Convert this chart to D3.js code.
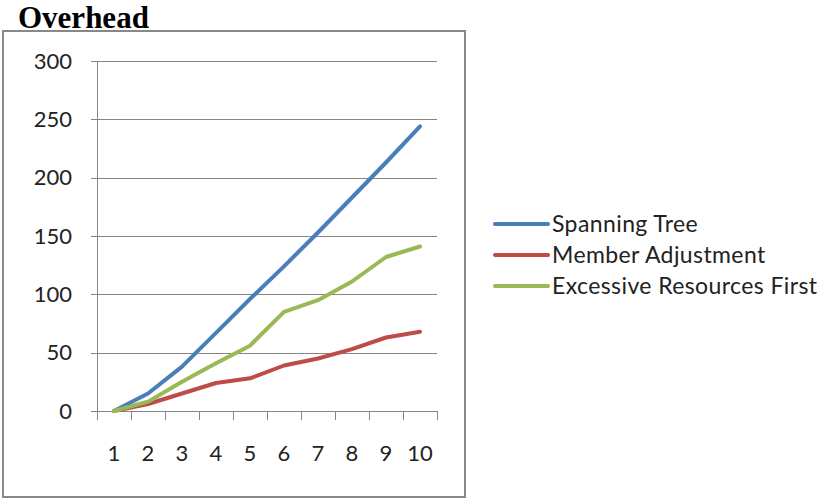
<!DOCTYPE html>
<html>
<head>
<meta charset="utf-8">
<script src="https://cdn.jsdelivr.net/npm/d3@7"></script>
<style>
  html, body { margin: 0; padding: 0; background: #fff; }
  svg { display: block; }
</style>
</head>
<body>
<svg id="chart" width="825" height="500"></svg>
<script>
// Runs (x axis) and overhead per method
const categories = ["1", "2", "3", "4", "5", "6", "7", "8", "9", "10"];
const spanningTree = [0, 15, 38, 67, 96, 124, 153, 183, 213, 244];
const memberAdjustment = [0, 6, 15, 24, 28, 39, 45, 53, 63, 68];
const excessiveResourcesFirst = [0, 8, 25, 41, 56, 85, 95, 111, 132, 141];
const yTicks = [0, 50, 100, 150, 200, 250, 300];
const seriesNames = ["Spanning Tree", "Member Adjustment", "Excessive Resources First"];
const seriesColors = ["#4A7EBB", "#BE4B48", "#98B954"];

const series = [spanningTree, memberAdjustment, excessiveResourcesFirst].map((values, i) => ({
  name: seriesNames[i], color: seriesColors[i], values
}));

const svg = d3.select("#chart");
const font = "Lato, 'Open Sans', sans-serif";

// Title
svg.append("text")
  .attr("x", 18).attr("y", 28)
  .attr("font-family", "'Liberation Serif', 'Times New Roman', serif")
  .attr("font-weight", "bold")
  .attr("font-size", 31)
  .attr("fill", "#000")
  .text("Overhead");

// Chart frame
svg.append("rect")
  .attr("x", 3).attr("y", 31)
  .attr("width", 462).attr("height", 466)
  .attr("fill", "none")
  .attr("stroke", "#888")
  .attr("stroke-width", 2);

const plot = { left: 97, right: 437, top: 61, bottom: 411 };

const x = d3.scaleBand().domain(categories).range([plot.left, plot.right]);
const y = d3.scaleLinear().domain([0, 300]).range([plot.bottom, plot.top]);

// Horizontal gridlines + y axis
const yAxis = d3.axisLeft(y).tickValues(yTicks).tickSize(-(plot.right - plot.left)).tickPadding(25).tickSizeOuter(0);
const gy = svg.append("g").attr("transform", `translate(${plot.left},0)`).call(yAxis);
gy.select(".domain").attr("stroke", "#868686");
gy.selectAll(".tick line").attr("stroke", "#868686").attr("shape-rendering", "crispEdges");
gy.selectAll(".tick text")
  .attr("font-family", font).attr("font-size", 22).attr("fill", "#222");

// Left tick stubs extend past the axis
gy.selectAll(".tick").append("line")
  .attr("x1", -6).attr("x2", 0)
  .attr("stroke", "#868686").attr("shape-rendering", "crispEdges");

// X axis with band-boundary tick marks
const gx = svg.append("g").attr("transform", `translate(0,${plot.bottom})`);
gx.append("line")
  .attr("x1", plot.left).attr("x2", plot.right)
  .attr("stroke", "#868686").attr("shape-rendering", "crispEdges");
const boundaries = categories.map(c => x(c)).concat([plot.right]);
gx.selectAll("line.tk").data(boundaries).join("line")
  .attr("class", "tk")
  .attr("x1", d => d).attr("x2", d => d)
  .attr("y1", 0).attr("y2", 9)
  .attr("stroke", "#868686").attr("shape-rendering", "crispEdges");
gx.selectAll("text").data(categories).join("text")
  .attr("x", d => x(d) + x.bandwidth() / 2)
  .attr("y", 50)
  .attr("text-anchor", "middle")
  .attr("font-family", font).attr("font-size", 22).attr("fill", "#222")
  .text(d => d);

// Series lines
const line = d3.line()
  .x((d, i) => x(categories[i]) + x.bandwidth() / 2)
  .y(d => y(d));

svg.append("g").selectAll("path").data(series).join("path")
  .attr("d", d => line(d.values))
  .attr("fill", "none")
  .attr("stroke", d => d.color)
  .attr("stroke-width", 4)
  .attr("stroke-linejoin", "round")
  .attr("stroke-linecap", "round");

// Legend
const legend = svg.append("g").attr("transform", "translate(495,224)");
const rows = legend.selectAll("g").data(series).join("g")
  .attr("transform", (d, i) => `translate(0,${i * 31})`);
rows.append("line")
  .attr("x1", 0).attr("x2", 53)
  .attr("stroke", d => d.color)
  .attr("stroke-width", 4)
  .attr("stroke-linecap", "round");
rows.append("text")
  .attr("x", 57).attr("y", 8)
  .attr("font-family", font).attr("font-size", 23)
  .attr("letter-spacing", 0.4)
  .attr("fill", "#222")
  .text(d => d.name);
</script>
</body>
</html>
